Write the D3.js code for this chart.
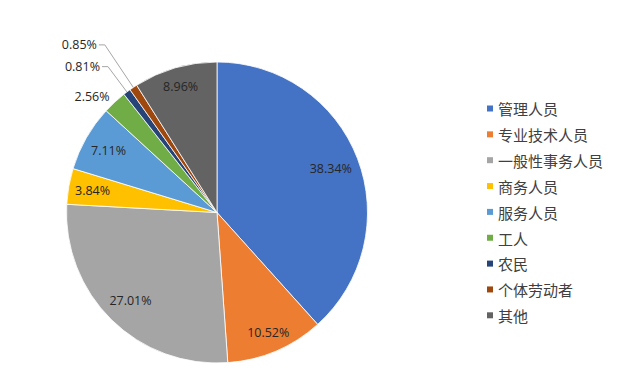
<!DOCTYPE html>
<html><head><meta charset="utf-8">
<script src="https://cdn.jsdelivr.net/npm/d3@7"></script>
<style>body{margin:0;background:#fff;}svg{display:block;}</style>
</head><body>
<svg id="c" width="636" height="392"></svg>
<script>
const categories = ["管理人员","专业技术人员","一般性事务人员","商务人员","服务人员","工人","农民","个体劳动者","其他"];
const values = [38.34,10.52,27.01,3.84,7.11,2.56,0.81,0.85,8.96];
const labels = ["38.34%","10.52%","27.01%","3.84%","7.11%","2.56%","0.81%","0.85%","8.96%"];
const colors = ["#4472C4","#ED7D31","#A5A5A5","#FFC000","#5B9BD5","#70AD47","#264478","#9E480E","#636363"];
// label placement (fraction of radius) and whether a leader line is drawn
const labelRadius = [0.81,0.87,0.82,0.84,0.83,1.05,1.21,1.34,0.87];
const leader = [false,false,false,false,false,false,true,true,false];

const svg = d3.select("#c");
const cx = 217, cy = 212.5, R = 150.5;
const g = svg.append("g").attr("transform", `translate(${cx},${cy})`);
const pie = d3.pie().sort(null).value(d => d)(values);
const arc = d3.arc().innerRadius(0).outerRadius(R);

g.selectAll("path.s").data(pie).enter().append("path")
  .attr("d", arc).attr("fill", (d,i) => colors[i])
  .attr("stroke", "#fff").attr("stroke-width", 0.8);

const numFont = "'Open Sans', 'DejaVu Sans', sans-serif";
pie.forEach((d,i) => {
  const a = (d.startAngle + d.endAngle)/2;
  const rr = labelRadius[i]*R;
  const x = Math.sin(a)*rr, y = -Math.cos(a)*rr;
  if (leader[i]) {
    const x0 = Math.sin(a)*R, y0 = -Math.cos(a)*R;
    g.append("polyline")
      .attr("points", `${x0},${y0} ${x},${y} ${x-6},${y}`)
      .attr("fill","none").attr("stroke","#A6A6A6").attr("stroke-width",1);
    g.append("text").attr("x", x-8).attr("y", y).attr("dy","0.35em")
      .attr("text-anchor","end").attr("font-family", numFont).attr("font-size",12.5)
      .attr("fill","#262626").text(labels[i]);
  } else {
    g.append("text").attr("x", x).attr("y", y).attr("dy","0.35em")
      .attr("text-anchor", labelRadius[i] > 1 ? "end" : "middle")
      .attr("font-family", numFont).attr("font-size",12.5)
      .attr("fill","#262626").text(labels[i]);
  }
});

const leg = svg.append("g").attr("transform","translate(487,110)");
const rowH = 25.85;
categories.forEach((c,i) => {
  const row = leg.append("g").attr("transform", `translate(0,${i*rowH})`);
  row.append("rect").attr("x",0).attr("y",-4.5).attr("width",6).attr("height",6).attr("fill",colors[i]);
  row.append("text").attr("x",11).attr("y",0).attr("dy","0.35em")
    .attr("font-family","'Noto Sans CJK SC', sans-serif").attr("font-size",15)
    .attr("fill","#404040").text(c);
});
</script>
</body></html>
